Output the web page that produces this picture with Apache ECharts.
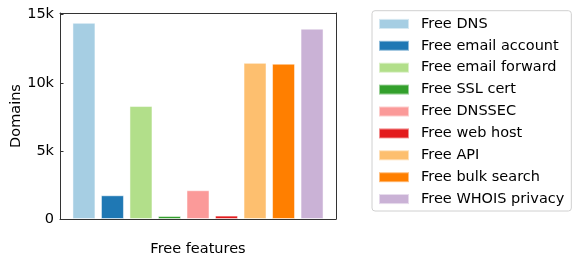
<!DOCTYPE html>
<html>
<head>
<meta charset="utf-8">
<script src="https://cdn.jsdelivr.net/npm/echarts@6/dist/echarts.min.js"></script>
<style>html,body{margin:0;padding:0;background:#fff;}#c{width:582px;height:266px;}</style>
</head>
<body>
<div id="c"></div>
<script>
const categories = ['Free DNS','Free email account','Free email forward','Free SSL cert','Free DNSSEC','Free web host','Free API','Free bulk search','Free WHOIS privacy'];
const values = [14400, 1740, 8290, 220, 2110, 250, 11460, 11400, 13970];
const colors = ['#a6cee3','#1f78b4','#b2df8a','#33a02c','#fb9a99','#e31a1c','#fdbf6f','#ff7f00','#cab2d6'];
const yTicks = [0, 5000, 10000, 15000];
const yTickLabels = ['0', '5k', '10k', '15k'];

const font = 'DejaVu Sans';
const chart = echarts.init(document.getElementById('c'), null, {renderer: 'canvas'});
const yMax = Math.max(...values) * 1.05;
const series = categories.map((name, i) => ({
  name: name,
  type: 'bar',
  stack: 'all',
  barWidth: 23,
  itemStyle: {color: colors[i], borderColor: 'rgba(255,255,255,0.5)', borderWidth: 1},
  data: [[i, values[i]]],
  animation: false
}));
chart.setOption({
  animation: false,
  textStyle: {fontFamily: font},
  grid: {left: 60, right: 246, top: 13, bottom: 47},
  xAxis: [
    {type: 'value', min: -0.84, max: 8.84, splitLine: {show: false},
     axisLine: {show: true, onZero: false, lineStyle: {color: '#333', width: 1}},
     axisTick: {show: false}, axisLabel: {show: false},
     name: 'Free features', nameLocation: 'middle', nameGap: 23,
     nameTextStyle: {fontFamily: font, fontSize: 14.5, color: '#000'}},
    {type: 'value', position: 'top', min: -0.84, max: 8.84, splitLine: {show: false},
     axisLine: {show: true, onZero: false, lineStyle: {color: '#333', width: 1}},
     axisTick: {show: false}, axisLabel: {show: false}}
  ],
  yAxis: [
    {type: 'value', min: 0, max: yMax, interval: 5000, splitLine: {show: false},
     axisLine: {show: true, onZero: false, lineStyle: {color: '#333', width: 1}},
     axisTick: {show: true, inside: true, length: 3.5, lineStyle: {color: '#333'}},
     axisLabel: {margin: 6, fontFamily: font, fontSize: 14.5, color: '#000', showMaxLabel: false,
       formatter: v => { const k = yTicks.indexOf(v); return k >= 0 ? yTickLabels[k] : ''; }},
     name: 'Domains', nameLocation: 'middle', nameGap: 36, nameRotate: 90,
     nameTextStyle: {fontFamily: font, fontSize: 14.5, color: '#000'}},
    {type: 'value', position: 'right', min: 0, max: yMax, splitLine: {show: false},
     axisLine: {show: true, onZero: false, lineStyle: {color: '#333', width: 1}},
     axisTick: {show: false}, axisLabel: {show: false}}
  ],
  legend: {
    orient: 'vertical', left: 372, top: 10.7,
    padding: [5.7, 7, 4.4, 6],
    itemWidth: 30, itemHeight: 10, itemGap: 6.9,
    borderColor: '#d0d0d0', borderWidth: 1, borderRadius: 3,
    backgroundColor: '#fff',
    icon: 'rect',
    textStyle: {fontFamily: font, fontSize: 14.5, color: '#000', padding: [0, 0, 0, 7]},
    data: categories
  },
  series: series
});
</script>
</body>
</html>
